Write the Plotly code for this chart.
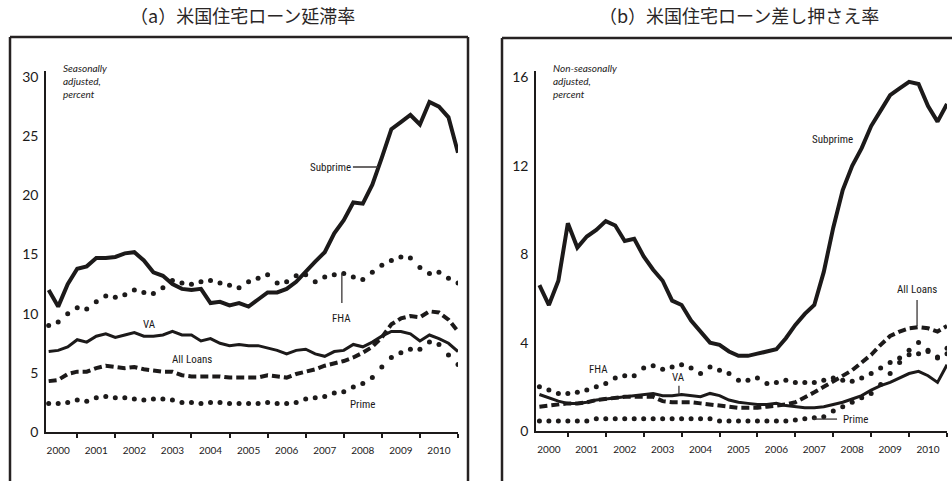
import plotly.graph_objects as go

# Quarter labels 2000Q1 .. 2010Q4
quarters = [f"{y}Q{q}" for y in range(2000, 2011) for q in range(1, 5)]
year_labels = [str(y) for y in range(2000, 2011)]

# (a) delinquency rates, seasonally adjusted, percent
delinq_subprime = [12.0, 10.6, 12.5, 13.8, 14.0, 14.7, 14.7, 14.8, 15.1, 15.2, 14.5,
                   13.5, 13.2, 12.5, 12.1, 12.0, 12.1, 10.9, 11.0, 10.7, 10.9, 10.6,
                   11.2, 11.8, 11.8, 12.1, 12.7, 13.6, 14.4, 15.2, 16.8, 17.9, 19.4,
                   19.3, 20.9, 23.2, 25.6, 26.2, 26.8, 26.0, 27.9, 27.5, 26.6, 23.6]
delinq_fha = [9.0, 9.3, 10.0, 10.5, 10.4, 11.0, 11.5, 11.4, 11.6, 12.0, 11.8,
              11.7, 12.2, 12.8, 12.6, 12.5, 12.7, 12.8, 12.6, 12.4, 12.2, 12.7,
              13.0, 13.3, 12.6, 12.7, 13.2, 13.3, 12.7, 13.1, 13.3, 13.4, 13.1,
              12.9, 13.5, 14.1, 14.5, 14.8, 14.7, 13.9, 13.4, 13.5, 13.0, 12.6]
delinq_va = [6.8, 6.9, 7.2, 7.8, 7.6, 8.1, 8.3, 8.0, 8.2, 8.4, 8.1,
             8.1, 8.2, 8.5, 8.2, 8.2, 7.7, 7.9, 7.5, 7.3, 7.4, 7.3,
             7.3, 7.1, 6.9, 6.6, 6.9, 7.0, 6.6, 6.4, 6.8, 6.9, 7.4,
             7.2, 7.6, 8.1, 8.5, 8.5, 8.3, 7.7, 8.2, 7.9, 7.5, 6.8]
delinq_all = [4.3, 4.4, 4.9, 5.1, 5.1, 5.4, 5.6, 5.5, 5.4, 5.5, 5.3,
              5.2, 5.1, 5.1, 4.8, 4.7, 4.7, 4.7, 4.7, 4.6, 4.6, 4.6,
              4.6, 4.8, 4.7, 4.6, 4.9, 5.1, 5.3, 5.6, 5.8, 6.0, 6.3,
              6.7, 7.2, 8.0, 9.1, 9.6, 9.8, 9.7, 10.2, 10.1, 9.5, 8.5]
delinq_prime = [2.4, 2.4, 2.5, 2.7, 2.6, 2.9, 3.0, 2.9, 2.9, 2.8, 2.7,
                2.8, 2.8, 2.7, 2.5, 2.5, 2.4, 2.5, 2.5, 2.4, 2.4, 2.4,
                2.4, 2.5, 2.4, 2.4, 2.5, 2.8, 2.9, 3.0, 3.3, 3.4, 3.8,
                4.1, 4.6, 5.5, 6.3, 6.7, 7.0, 7.0, 7.6, 7.4, 6.5, 5.7]

# (b) foreclosure rates, non-seasonally adjusted, percent
fc_subprime = [6.6, 5.7, 6.8, 9.4, 8.3, 8.8, 9.1, 9.5, 9.3, 8.6, 8.7,
               7.9, 7.3, 6.8, 5.9, 5.7, 5.0, 4.5, 4.0, 3.9, 3.6, 3.4,
               3.4, 3.5, 3.6, 3.7, 4.2, 4.8, 5.3, 5.7, 7.2, 9.2, 10.9,
               12.0, 12.8, 13.8, 14.5, 15.2, 15.5, 15.8, 15.7, 14.7, 14.0, 14.8]
fc_fha = [2.0, 1.85, 1.7, 1.7, 1.75, 1.85, 2.0, 2.15, 2.4, 2.5, 2.5,
          2.85, 2.95, 2.8, 2.9, 3.0, 2.85, 2.6, 2.9, 2.75, 2.6, 2.3,
          2.3, 2.4, 2.15, 2.2, 2.3, 2.2, 2.2, 2.2, 2.3, 2.4, 2.3,
          2.25, 2.4, 2.6, 2.85, 3.1, 3.3, 3.65, 4.0, 3.65, 3.35, 3.75]
fc_va = [1.65, 1.5, 1.35, 1.25, 1.25, 1.3, 1.4, 1.45, 1.5, 1.55, 1.6,
         1.65, 1.7, 1.6, 1.6, 1.65, 1.6, 1.55, 1.7, 1.6, 1.4, 1.3,
         1.25, 1.2, 1.2, 1.25, 1.15, 1.1, 1.05, 1.05, 1.1, 1.2, 1.3,
         1.45, 1.6, 1.85, 2.05, 2.2, 2.4, 2.6, 2.7, 2.5, 2.2, 3.0]
fc_all = [1.1, 1.15, 1.2, 1.25, 1.25, 1.3, 1.4, 1.45, 1.5, 1.55, 1.55,
          1.55, 1.55, 1.35, 1.3, 1.3, 1.3, 1.25, 1.2, 1.15, 1.1, 1.05,
          1.05, 1.05, 1.1, 1.15, 1.2, 1.3, 1.5, 1.75, 2.0, 2.25, 2.5,
          2.75, 3.1, 3.45, 3.9, 4.3, 4.5, 4.65, 4.7, 4.65, 4.5, 4.75]
fc_prime = [0.45, 0.45, 0.45, 0.45, 0.45, 0.45, 0.55, 0.55, 0.55, 0.55, 0.55,
            0.55, 0.55, 0.55, 0.55, 0.55, 0.55, 0.55, 0.55, 0.45, 0.45, 0.45,
            0.45, 0.45, 0.45, 0.45, 0.45, 0.5, 0.55, 0.6, 0.65, 0.9, 1.1,
            1.3, 1.5, 1.7, 2.1, 2.6, 3.1, 3.45, 3.5, 3.6, 3.3, 3.5]


def quarter_to_x(label):
    # quarter plotted at the end of its quarter
    return int(label[:4]) + int(label[-1]) * 0.25


x = [quarter_to_x(q) for q in quarters]

W, H = 952, 481
INK = "#1c1a1a"
TICK_FONT = "Lato, 'Open Sans', sans-serif"
LABEL_FONT = "'Liberation Sans Narrow', 'Roboto Condensed', Roboto, sans-serif"


def px(v):
    return v / W


def py(v):
    return 1 - v / H


fig = go.Figure()


def add_panel(xa, ya, subprime, fha, va, all_loans, prime):
    # solid lines
    fig.add_trace(go.Scatter(x=x, y=subprime, mode="lines", xaxis=xa, yaxis=ya,
                             line=dict(color=INK, width=4)))
    fig.add_trace(go.Scatter(x=x, y=va, mode="lines", xaxis=xa, yaxis=ya,
                             line=dict(color=INK, width=3)))
    # dashed
    fig.add_trace(go.Scatter(x=x, y=all_loans, mode="lines", xaxis=xa, yaxis=ya,
                             line=dict(color=INK, width=4, dash="8px,4px")))
    # dotted series drawn as dots at each quarter
    for s in (fha, prime):
        fig.add_trace(go.Scatter(x=x, y=s, mode="markers", xaxis=xa, yaxis=ya,
                                 marker=dict(color=INK, size=5)))


add_panel("x", "y", delinq_subprime, delinq_fha, delinq_va, delinq_all, delinq_prime)
add_panel("x2", "y2", fc_subprime, fc_fha, fc_va, fc_all, fc_prime)

xaxis_common = dict(
    tickvals=[y + 0.5 for y in range(2000, 2011)], ticktext=year_labels,
    ticks="", showline=True, linecolor=INK, linewidth=1.5,
    showgrid=False, zeroline=False, fixedrange=True, automargin=False,
    tickfont=dict(family=TICK_FONT, size=10, color=INK),
    ticklabelstandoff=8,
    minor=dict(tickvals=list(range(2001, 2012)), ticks="outside", ticklen=4,
               tickwidth=1.5, tickcolor=INK, showgrid=False),
)
yaxis_common = dict(
    showline=True, linecolor=INK, linewidth=1.5, ticks="",
    showgrid=False, zeroline=False, automargin=False,
    tickfont=dict(family=TICK_FONT, size=14, color=INK),
    ticklabelstandoff=3,
)

fig.update_layout(
    width=W, height=H,
    margin=dict(l=0, r=0, t=0, b=0),
    paper_bgcolor="white", plot_bgcolor="white",
    showlegend=False,
    xaxis=dict(xaxis_common, domain=[px(46), px(458)], range=[2000.18, 2011.0], anchor="y"),
    yaxis=dict(yaxis_common, domain=[py(432), py(70.6)], range=[0, 30.55],
               tickvals=[0, 5, 10, 15, 20, 25, 30], anchor="x"),
    xaxis2=dict(xaxis_common, domain=[px(536), px(947)], range=[2000.16, 2011.0], anchor="y2"),
    yaxis2=dict(yaxis_common, domain=[py(431), py(70.8)], range=[0, 16.3],
                tickvals=[0, 4, 8, 12, 16], anchor="x2"),
)

# Panel frames
frame = dict(color="#262222", width=2.5)
fig.add_shape(type="line", xref="paper", yref="paper", x0=px(10), x1=px(10), y0=py(37), y1=-0.02, line=frame)
fig.add_shape(type="line", xref="paper", yref="paper", x0=px(10), x1=px(468), y0=py(37), y1=py(37), line=frame)
fig.add_shape(type="line", xref="paper", yref="paper", x0=px(468), x1=px(468), y0=py(37), y1=-0.02, line=frame)
fig.add_shape(type="line", xref="paper", yref="paper", x0=px(502), x1=px(502), y0=py(38), y1=-0.02, line=frame)
fig.add_shape(type="line", xref="paper", yref="paper", x0=px(502), x1=1.02, y0=py(38), y1=py(38), line=frame)

# Panel titles
title_font = dict(family="'Noto Sans CJK JP', sans-serif", size=18, color="#2a2626")
fig.add_annotation(text="（a）米国住宅ローン延滞率", xref="paper", yref="paper",
                   x=px(243), y=py(15), xanchor="center", yanchor="middle",
                   showarrow=False, font=title_font)
fig.add_annotation(text="（b）米国住宅ローン差し押さえ率", xref="paper", yref="paper",
                   x=px(739), y=py(15), xanchor="center", yanchor="middle",
                   showarrow=False, font=title_font)

# Units notes
note_font = dict(family=TICK_FONT, size=10, color=INK)
fig.add_annotation(text="<i>Seasonally<br>adjusted,<br>percent</i>", xref="paper", yref="paper",
                   x=px(61), y=py(60), xanchor="left", yanchor="top", align="left",
                   showarrow=False, font=note_font)
fig.add_annotation(text="<i>Non-seasonally<br>adjusted,<br>percent</i>", xref="paper", yref="paper",
                   x=px(551), y=py(60), xanchor="left", yanchor="top", align="left",
                   showarrow=False, font=note_font)

# Series labels
label_font = dict(family=LABEL_FONT, size=11, color=INK)
labels = [
    ("x", "y", "Subprime", 2007.64, 22.4),
    ("x", "y", "FHA", 2007.95, 9.6),
    ("x", "y", "VA", 2002.91, 9.1),
    ("x", "y", "All Loans", 2004.02, 6.1),
    ("x", "y", "Prime", 2008.48, 2.3),
    ("x2", "y2", "Subprime", 2007.97, 13.2),
    ("x2", "y2", "All Loans", 2010.21, 6.4),
    ("x2", "y2", "FHA", 2001.82, 2.8),
    ("x2", "y2", "VA", 2003.93, 2.4),
    ("x2", "y2", "Prime", 2008.58, 0.54),
]
for xr, yr, txt, lx, ly in labels:
    fig.add_annotation(text=txt, xref=xr, yref=yr, x=lx, y=ly, showarrow=False, font=label_font)

# Leader lines
leader = dict(color="#3a3636", width=1.3)
leaders = [
    ("x", "y", 2008.24, 22.4, 2008.90, 22.4),
    ("x", "y", 2007.95, 10.9, 2007.95, 13.4),
    ("x2", "y2", 2010.21, 5.93, 2010.21, 4.75),
    ("x2", "y2", 2003.93, 2.05, 2003.93, 1.65),
    ("x2", "y2", 2007.47, 0.54, 2008.10, 0.54),
]
for xr, yr, x0, y0, x1, y1 in leaders:
    fig.add_shape(type="line", xref=xr, yref=yr, x0=x0, y0=y0, x1=x1, y1=y1, line=leader)

# page body has a default margin; remove it so the figure sits at the window origin
fig.write_html("out.html", config={"displayModeBar": False},
               post_script="document.body.style.margin='0px';")
